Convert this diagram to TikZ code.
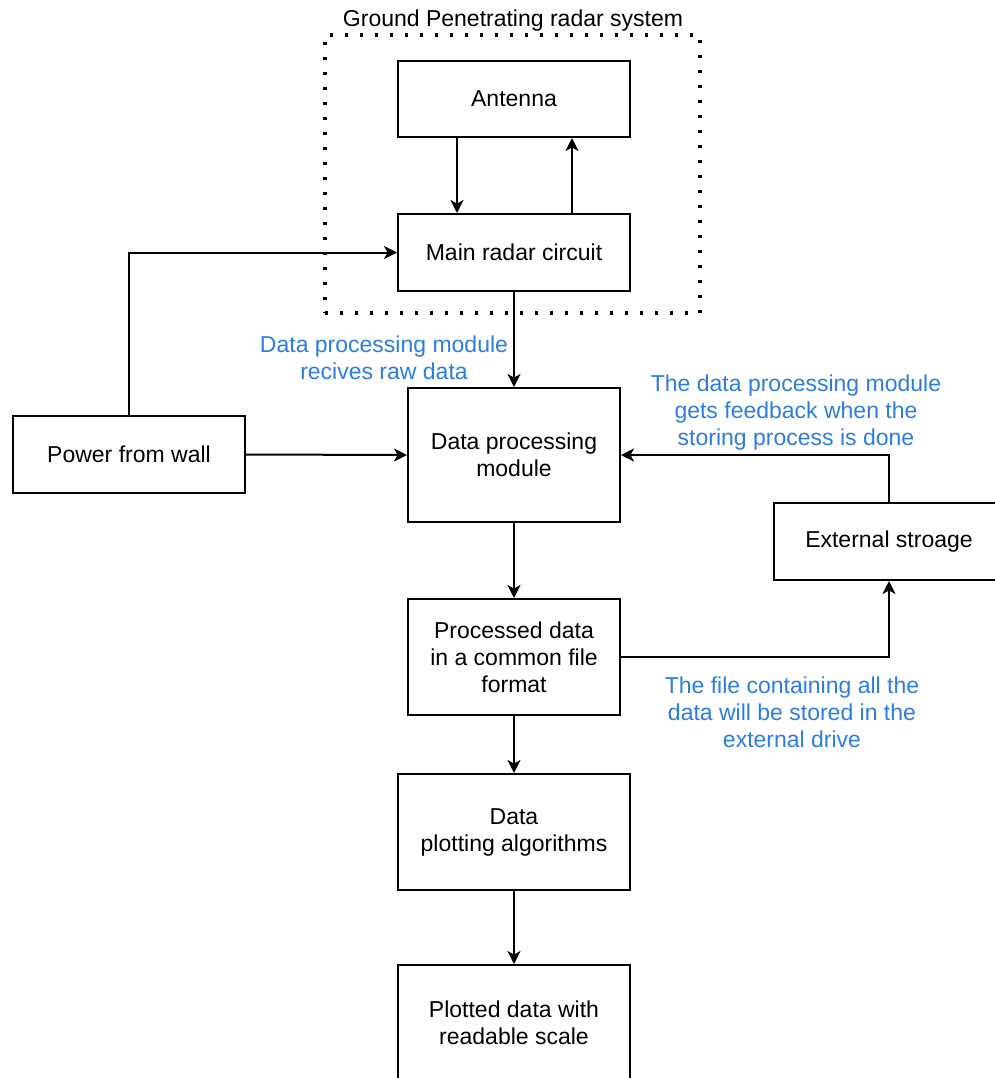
\documentclass[tikz,border=0pt]{standalone}
\usepackage{fontspec}
\setmainfont{Liberation Sans}
\usetikzlibrary{arrows.meta}
\definecolor{lblblue}{RGB}{45,125,225}
\tikzset{
  base/.style={font=\fontsize{11.5}{13.5}\selectfont, align=center, inner sep=0pt},
  box/.style={base, draw, line width=1pt},
  lbl/.style={base, text=lblblue},
  arr/.style={line width=1pt, -{Stealth[length=6.5pt,width=6.5pt,inset=1.8pt]}},
  frame/.style={draw, line width=1.6pt, line cap=butt, dash pattern=on 1.5pt off 6pt, inner sep=0pt}
}
\begin{document}
\begin{tikzpicture}[x=0.5pt,y=-0.5pt]
\useasboundingbox (0,0) rectangle (995,1078);
\clip (0,0) rectangle (995,1078);
\fill[white] (0,0) rectangle (995,1078);
% dotted frame and title
\node[frame, minimum width=187.5pt, minimum height=139pt] (frm) at (512.5,174) {};
\node[base] (title) at (513,21) {Ground Penetrating radar system};
% boxes
\node[box, minimum width=116pt, minimum height=38pt] (ant) at (514,99) {Antenna};
\node[box, minimum width=116pt, minimum height=38.5pt] (main) at (514,252.5) {Main radar circuit};
\node[box, minimum width=106pt, minimum height=67pt] (dpm) at (514,455) {Data processing\\module};
\node[box, minimum width=116pt, minimum height=38.5pt] (power) at (129,454.5) {Power from wall};
\node[box, minimum width=115pt, minimum height=38.5pt] (ext) at (889,541.5) {External stroage};
\node[box, minimum width=106pt, minimum height=58pt] (proc) at (514,657) {Processed data\\in a common file\\format};
\node[box, minimum width=116pt, minimum height=58pt] (plot) at (514,832) {Data\\plotting algorithms};
\node[box, minimum width=116pt, minimum height=57.5pt] (plotted) at (514,1022.5) {Plotted data with\\readable scale};
% labels
\node[lbl] (l1) at (384,358) {Data processing module\\recives raw data};
\node[lbl] (l2) at (796,413) {The data processing module\\gets feedback when the\\storing process is done};
\node[lbl] (l3) at (792,712) {The file containing all the\\data will be stored in the\\external drive};
% connectors
\draw[arr] ([xshift=-28.5pt]ant.south) -- ([xshift=-28.5pt]main.north);
\draw[arr] ([xshift=29pt]main.north) -- ([xshift=29pt]ant.south);
\draw[arr] (power.north) |- (main.west);
\draw[arr] (power.east) -- (dpm.west);
\draw[arr] (main.south) -- (dpm.north);
\draw[arr] (dpm.south) -- (proc.north);
\draw[arr] (proc.south) -- (plot.north);
\draw[arr] (plot.south) -- (plotted.north);
\draw[arr] (proc.east) -| (ext.south);
\draw[arr] (ext.north) |- (dpm.east);
\end{tikzpicture}
\end{document}
